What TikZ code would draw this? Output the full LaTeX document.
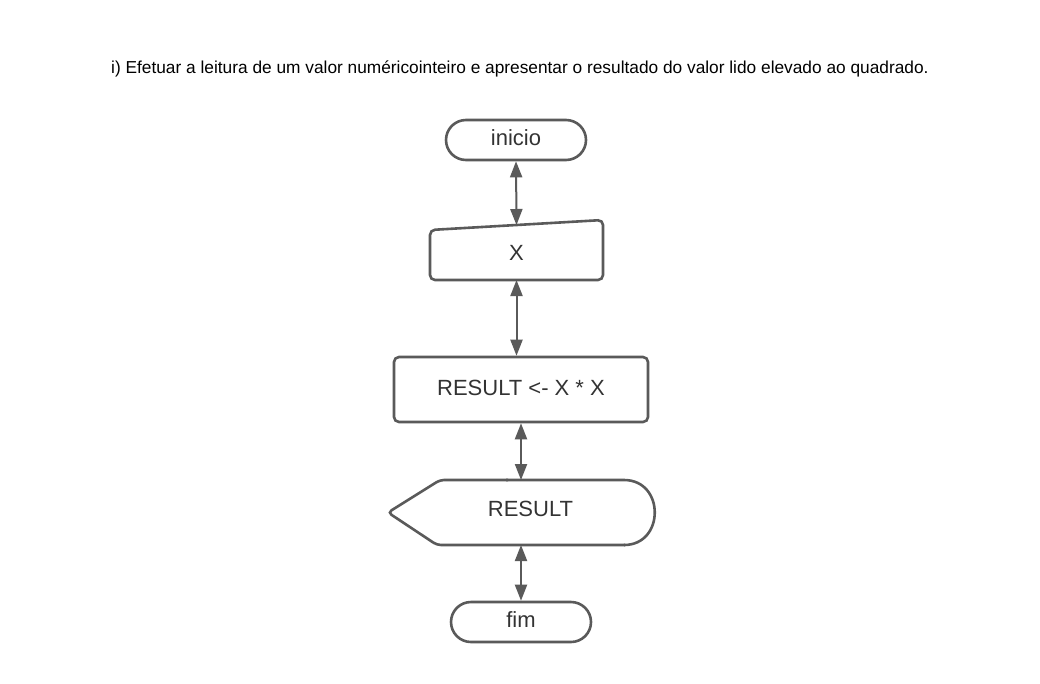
\documentclass[tikz,border=0pt]{standalone}
\usepackage{fontspec}
\setmainfont{Liberation Sans}
\usetikzlibrary{arrows.meta,shapes.misc,calc}
\definecolor{lc}{HTML}{5A5A5A}
\definecolor{tc}{HTML}{333333}
\begin{document}
\begin{tikzpicture}[x=1pt,y=-1pt,
  line/.style={draw=lc, line width=2.6pt},
  lbl/.style={font=\fontsize{22}{26}\selectfont, text=tc, inner sep=0pt},
  term/.style={line, rounded rectangle, minimum width=140pt, minimum height=40pt, inner sep=0pt},
  hold/.style={inner sep=0pt, outer sep=0pt},
  conn/.style={draw=lc, line width=2pt, {Triangle[length=16pt,width=12pt]}-{Triangle[length=16pt,width=12pt]}}
]
\useasboundingbox[fill=white] (0,0) rectangle (1040,683);
\node[anchor=base west, font=\fontsize{17.3}{20}\selectfont, text=black, inner sep=0pt] (title) at (111,73.5)
  {i) Efetuar a leitura de um valor numéricointeiro e apresentar o resultado do valor lido elevado ao quadrado.};
% inicio
\node[term] (ini) at (516,140) {};
\node[lbl] (inilbl) at ($(ini.center)+(0,-2)$) {inicio};
% manual input X
\node[hold, minimum width=173pt, minimum height=60pt] (xin) at (516.5,250) {};
\draw[line, rounded corners=5pt] (xin.south) -- (xin.south west) -- ($(xin.north west)+(0,10)$) -- (xin.north east) -- (xin.south east) -- cycle;
\node[lbl] (xlbl) at ($(xin.center)+(0,3)$) {X};
% process
\node[line, rounded corners=5pt, minimum width=254pt, minimum height=65pt, inner sep=0pt] (res) at (521,389.5) {};
\node[lbl] (reslbl) at ($(res.center)+(0,-1.5)$) {RESULT <- X * X};
% display
\node[hold, minimum width=269pt, minimum height=65pt] (disp) at (522.5,512.5) {};
\draw[line, rounded corners=4pt] ($(disp.north west)+(120,0)$) -- ($(disp.north west)+(52,0)$) -- (disp.west) -- ($(disp.south west)+(49,0)$) -- ($(disp.south east)+(-32,0)$);
\draw[line] ($(disp.south east)+(-33,0)$) .. controls ($(disp.south east)+(8,0)$) and ($(disp.north east)+(8,0)$) .. ($(disp.north east)+(-33,0)$) -- ($(disp.north west)+(118,0)$);
\node[lbl] (dlbl) at ($(disp.center)+(8,-3.5)$) {RESULT};
% fim
\node[term] (fim) at (521,622) {};
\node[lbl] (fimlbl) at ($(fim.center)+(0,-2)$) {fim};
% connectors
\draw[conn] (ini.south) -- ($(xin.north)+(0,5)$);
\draw[conn] (xin.south) -- (xin.south |- res.north);
\draw[conn] (res.south) -- (res.south |- disp.north);
\draw[conn] (disp.south -| fim.north) -- (fim.north);
\end{tikzpicture}
\end{document}
